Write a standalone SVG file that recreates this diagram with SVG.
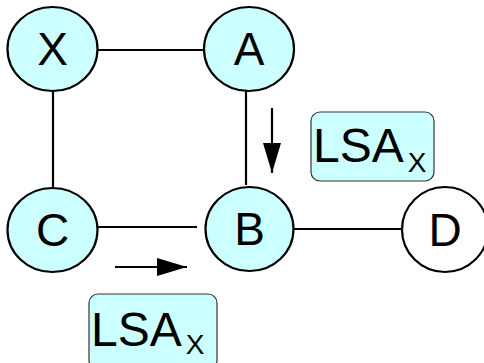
<svg xmlns="http://www.w3.org/2000/svg" width="484" height="363" viewBox="0 0 484 363">
<style>
.node{fill:#ccffff;stroke:#000;stroke-width:2.2}
.plain{fill:#fff;stroke:#000;stroke-width:2.2}
.lbl{font-family:"Liberation Sans",Arial,sans-serif;font-size:46px;fill:#000;text-anchor:middle}
.box{fill:#ccffff;stroke:#333;stroke-width:1.2}
.lsa{font-family:"Liberation Sans",Arial,sans-serif;font-size:48px;fill:#000}
.sub{font-size:28px}
.edge{stroke:#000;stroke-width:2.2;fill:none}
.arr{stroke:#000;stroke-width:2.2;fill:none}
</style>
<defs>
<marker id="ah" viewBox="0 0 30 18" refX="30" refY="9" markerWidth="30" markerHeight="18" markerUnits="userSpaceOnUse" orient="auto">
<path d="M0,0 L30,9 L0,18 Z" fill="#000"/>
</marker>
</defs>
<g id="connectors">
<line class="edge" x1="97" y1="50" x2="204" y2="50"/>
<line class="edge" x1="53" y1="91" x2="53" y2="188"/>
<line class="edge" x1="246" y1="90" x2="246" y2="185"/>
<line class="edge" x1="90" y1="227" x2="197" y2="227"/>
<line class="edge" x1="294" y1="229" x2="402" y2="229"/>
<line class="arr" x1="272" y1="108" x2="272" y2="173" marker-end="url(#ah)"/>
<line class="arr" x1="115" y1="267" x2="187" y2="267" marker-end="url(#ah)"/>
</g>
<g id="node-X"><ellipse class="node" cx="52.5" cy="49" rx="45" ry="42"/><text class="lbl" x="52.5" y="65">X</text></g>
<g id="node-A"><ellipse class="node" cx="249" cy="49" rx="45" ry="42"/><text class="lbl" x="249" y="65">A</text></g>
<g id="node-C"><ellipse class="node" cx="52.5" cy="230" rx="45" ry="42"/><text class="lbl" x="52.5" y="246">C</text></g>
<g id="node-B"><ellipse class="node" cx="249.5" cy="229" rx="44" ry="42"/><text class="lbl" x="249.5" y="245">B</text></g>
<g id="node-D"><ellipse class="plain" cx="445" cy="229.5" rx="43" ry="42.5"/><text class="lbl" x="445" y="245.5">D</text></g>
<g id="lsa-1"><rect class="box" x="311" y="112" width="123" height="69" rx="9"/><text class="lsa" x="313" y="162">LSA<tspan class="sub" dx="4" dy="10">X</tspan></text></g>
<g id="lsa-2"><rect class="box" x="89" y="294" width="128" height="75" rx="9"/><text class="lsa" x="91" y="346">LSA<tspan class="sub" dx="4" dy="8">X</tspan></text></g>
</svg>
